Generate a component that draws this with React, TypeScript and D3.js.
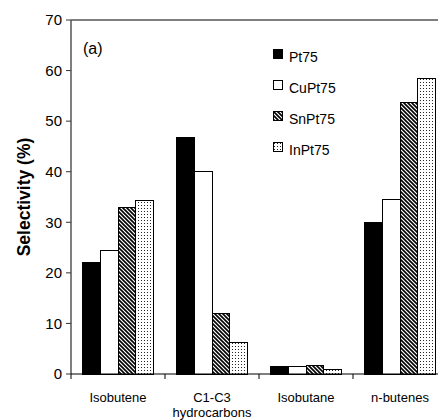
import React from "react";
import * as d3 from "d3";

const categories = ["Isobutene", "C1-C3 hydrocarbons", "Isobutane", "n-butenes"];
const series = ["Pt75", "CuPt75", "SnPt75", "InPt75"];
const pt75 = [22.1, 46.7, 1.45, 30.0];
const cuPt75 = [24.5, 40.1, 1.4, 34.6];
const snPt75 = [32.9, 12.0, 1.7, 53.6];
const inPt75 = [34.4, 6.2, 0.9, 58.5];
const yTicks = [0, 10, 20, 30, 40, 50, 60, 70];

const W = 438;
const H = 420;
const left = 71;
const top = 20;
const bottom = 374;
const right = 447;
const font = "'Liberation Sans', Arial, sans-serif";

const fills = ["#000", "#fff", "url(#diag)", "url(#dots)"];

export default function App() {
  const values = [pt75, cuPt75, snPt75, inPt75];
  const y = d3.scaleLinear().domain([0, 70]).range([bottom, top]);
  const x0 = d3
    .scaleBand<string>()
    .domain(categories)
    .range([left, right])
    .paddingInner(0.255)
    .paddingOuter(0.1275);
  const x1 = d3
    .scaleBand<string>()
    .domain(series)
    .range([0, x0.bandwidth()])
    .padding(0);
  const step = x0.step();

  return (
    <svg
      width={W}
      height={H}
      style={{ position: "absolute", left: 0, top: 0, background: "#fff" }}
    >
      <defs>
        <pattern id="diag" patternUnits="userSpaceOnUse" width="4" height="4">
          <rect width="4" height="4" fill="#fff" />
          <path d="M-1,-1 L5,5 M-1,3 L1,5 M3,-1 L5,1" stroke="#000" strokeWidth="1.6" />
        </pattern>
        <pattern id="dots" patternUnits="userSpaceOnUse" width="3" height="3">
          <rect width="3" height="3" fill="#fff" />
          <rect x="1" y="1" width="1" height="1" fill="#222" />
        </pattern>
      </defs>

      {/* bars */}
      {categories.map((c, ci) => (
        <g key={c} transform={`translate(${x0(c)},0)`}>
          {series.map((s, si) => {
            const v = values[si][ci];
            return (
              <rect
                key={s}
                x={x1(s)}
                y={y(v)}
                width={x1.bandwidth()}
                height={bottom - y(v)}
                fill={fills[si]}
                stroke="#000"
                strokeWidth={1}
                shapeRendering="crispEdges"
              />
            );
          })}
        </g>
      ))}

      {/* top border */}
      <line x1={left} x2={W} y1={top} y2={top} stroke="#000" strokeWidth={1.2} />
      {/* y axis */}
      <line x1={left} x2={left} y1={top} y2={bottom} stroke="#555" strokeWidth={1.5} />
      {yTicks.map((t) => (
        <g key={t}>
          <line x1={left - 5} x2={left} y1={y(t)} y2={y(t)} stroke="#333" strokeWidth={1} />
          <text
            x={left - 9}
            y={y(t)}
            dy="0.35em"
            textAnchor="end"
            fontFamily={font}
            fontSize={15}
            fill="#000"
          >
            {t}
          </text>
        </g>
      ))}
      {/* x axis */}
      <line x1={left} x2={W} y1={bottom} y2={bottom} stroke="#000" strokeWidth={1.2} />
      {categories.map((c, i) => (
        <line
          key={c}
          x1={left + step * i}
          x2={left + step * i}
          y1={bottom}
          y2={bottom + 5}
          stroke="#000"
          strokeWidth={1}
        />
      ))}
      {categories.map((c) => {
        const cx = (x0(c) as number) + x0.bandwidth() / 2;
        const lines = c === "C1-C3 hydrocarbons" ? ["C1-C3", "hydrocarbons"] : [c];
        return (
          <text key={c} x={cx} y={402} textAnchor="middle" fontFamily={font} fontSize={13} fill="#000">
            {lines.map((l, i) => (
              <tspan key={l} x={cx} dy={i === 0 ? 0 : 15}>
                {l}
              </tspan>
            ))}
          </text>
        );
      })}

      {/* y label */}
      <text
        transform={`translate(30,${(top + bottom) / 2}) rotate(-90)`}
        textAnchor="middle"
        fontFamily={font}
        fontWeight="bold"
        fontSize={17.5}
        fill="#000"
      >
        Selectivity (%)
      </text>

      <text x={83} y={54} fontFamily={font} fontSize={16} fill="#000">
        (a)
      </text>

      {/* legend */}
      {series.map((s, i) => (
        <g key={s} transform={`translate(273,${49 + i * 31})`}>
          <rect
            width={9}
            height={9}
            fill={fills[i]}
            stroke="#000"
            strokeWidth={1}
            shapeRendering="crispEdges"
          />
          <text x={16} y={13} fontFamily={font} fontSize={14} fill="#000">
            {s}
          </text>
        </g>
      ))}
    </svg>
  );
}
